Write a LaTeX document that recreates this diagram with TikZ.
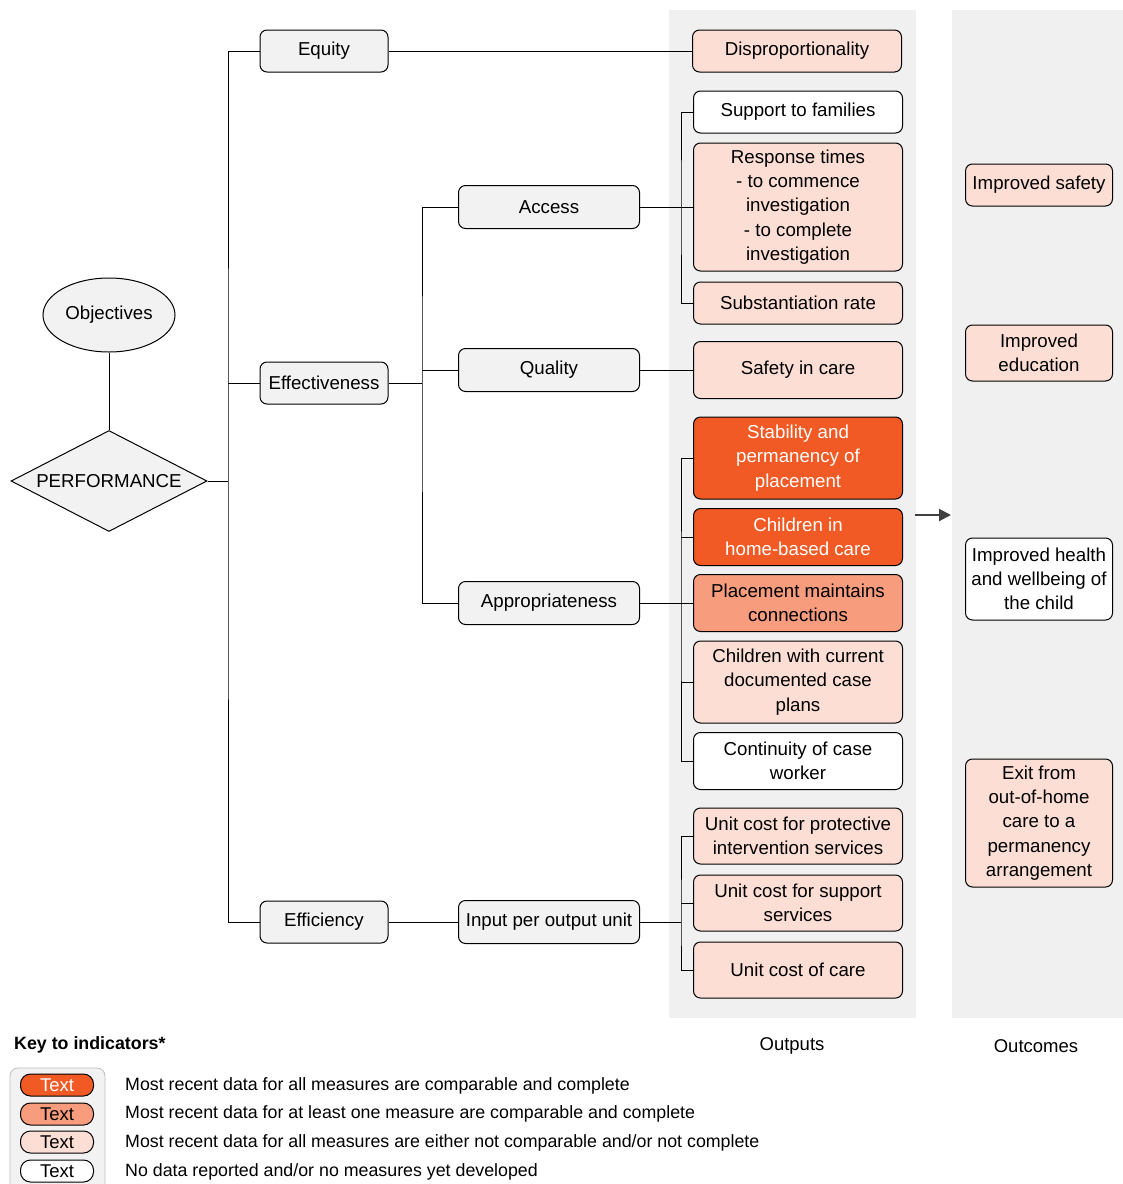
\documentclass[tikz,border=0pt]{standalone}
\usepackage{fontspec}
\setmainfont{Liberation Sans}
\usetikzlibrary{shapes.geometric,arrows.meta}
\definecolor{dk}{RGB}{241,90,36}
\definecolor{md}{RGB}{247,156,124}
\definecolor{lt}{RGB}{252,222,212}
\definecolor{gb}{RGB}{242,242,242}
\definecolor{bgc}{RGB}{240,240,240}
\definecolor{arr}{RGB}{64,64,64}
\tikzset{
  base/.style={draw=black, line width=1pt, rounded corners=7pt, align=center, inner sep=0pt,
    font=\fontsize{18.7}{24.3}\selectfont},
  cat/.style={base, fill=gb, minimum width=128pt, minimum height=42pt},
  sub/.style={base, fill=gb, minimum width=181pt, minimum height=43pt},
  outb/.style={base, minimum width=209pt},
  oc/.style={base, minimum width=147pt},
  fdk/.style={fill=dk, text=white},
  fmd/.style={fill=md},
  flt/.style={fill=lt},
  fwh/.style={fill=white},
  conn/.style={draw=black, line width=1pt},
  pill/.style={draw=black, line width=1pt, rounded corners=10pt, minimum width=73pt, minimum height=22pt,
    inner sep=0pt, font=\fontsize{18.5}{20}\selectfont},
  keytxt/.style={anchor=west, inner sep=0pt, font=\fontsize{17.8}{20}\selectfont},
}
\begin{document}
\begin{tikzpicture}[x=1pt,y=-1pt]
\useasboundingbox (0,0) rectangle (1123,1184);
% backgrounds
\fill[bgc] (669,10) rectangle (916,1018);
\fill[bgc] (952,10) rectangle (1123,1018);

% left side
\node[ellipse, draw=black, line width=1pt, fill=gb, minimum width=132pt, minimum height=74pt, inner sep=0pt,
  font=\fontsize{18.7}{24}\selectfont] (obj) at (109,315) {Objectives};
\node[diamond, draw=black, line width=1pt, fill=gb, minimum width=196pt, minimum height=101pt, aspect=1.94,
  inner sep=0pt, font=\fontsize{18.7}{24}\selectfont] (perf) at (109,481) {PERFORMANCE};

% categories
\node[cat] (equity) at (324,51) {Equity};
\node[cat] (effect) at (324,383) {Effectiveness};
\node[cat] (effic) at (324,922) {Efficiency};

% subcategories
\node[sub] (access) at (549,207) {Access};
\node[sub] (quality) at (549,370) {Quality};
\node[sub] (approp) at (549,603) {Appropriateness};
\node[sub] (input) at (549,922) {Input per output unit};

% outputs
\node[outb, flt, minimum height=42pt] (disp) at (797,51) {Disproportionality};
\node[outb, fwh, minimum height=42pt] (support) at (798,112) {Support to families};
\node[outb, flt, minimum height=128pt] (resp) at (798,207) {Response times\\- to commence\\investigation\\- to complete\\investigation};
\node[outb, flt, minimum height=42pt] (subst) at (798,303) {Substantiation rate};
\node[outb, flt, minimum height=57pt] (safety) at (798,370) {Safety in care};
\node[outb, fdk, minimum height=82pt] (stab) at (798,458) {Stability and\\permanency of\\placement};
\node[outb, fdk, minimum height=57pt] (home) at (798,537) {Children in\\home-based care};
\node[outb, fmd, minimum height=57pt] (place) at (798,603) {Placement maintains\\connections};
\node[outb, flt, minimum height=82pt] (plans) at (798,682) {Children with current\\documented case\\plans};
\node[outb, fwh, minimum height=57pt] (contin) at (798,761) {Continuity of case\\worker};
\node[outb, flt, minimum height=56pt] (ucprot) at (798,836) {Unit cost for protective\\intervention services};
\node[outb, flt, minimum height=56pt] (ucsupp) at (798,903) {Unit cost for support\\services};
\node[outb, flt, minimum height=56pt] (uccare) at (798,970) {Unit cost of care};

% outcomes
\node[oc, flt, minimum height=42pt] (isafe) at (1039,185) {Improved safety};
\node[oc, flt, minimum height=56pt] (iedu) at (1039,353) {Improved\\education};
\node[oc, fwh, minimum height=82pt] (ihealth) at (1039,579) {Improved health\\and wellbeing of\\the child};
\node[oc, flt, minimum height=128pt] (exit) at (1039,823) {Exit from\\out-of-home\\care to a\\permanency\\arrangement};

% arrow
\coordinate (arS) at (915,515);
\coordinate (arE) at (951,515);
\draw[draw=arr, line width=2pt, -{Triangle[length=12pt,width=12pt]}] (arS) -- (arE);

% connectors
\coordinate (trunk) at (228,481);
\draw[conn] (obj.south) -- (perf.north);
\draw[conn] (perf.east) -- (trunk);
\draw[conn] (equity.west) -| (trunk) |- (effic.west);
\draw[conn] (effect.west) -- (effect.west -| trunk);
\draw[conn] (equity.east) -- (disp.west);
\draw[conn] (effic.east) -- (input.west);
\coordinate (b2) at (422,383);
\draw[conn] (effect.east) -- (b2);
\draw[conn] (access.west) -| (b2) |- (approp.west);
\draw[conn] (quality.west) -- (quality.west -| b2);
% access bracket
\coordinate (b3) at (681,207);
\draw[conn] (access.east) -- (resp.west);
\draw[conn] (support.west) -| (b3) |- (subst.west);
\draw[conn] (quality.east) -- (safety.west);
% appropriateness bracket
\coordinate (b4) at (681,603);
\draw[conn] (approp.east) -- (place.west);
\draw[conn] (stab.west) -| (b4) |- (contin.west);
\draw[conn] (home.west) -- (home.west -| b4);
\draw[conn] (plans.west) -- (plans.west -| b4);
% input bracket
\coordinate (b5) at (681,922);
\draw[conn] (input.east) -- (b5);
\draw[conn] (ucprot.west) -| (b5) |- (uccare.west);
\draw[conn] (ucsupp.west) -- (ucsupp.west -| b5);

% column labels
\node[font=\fontsize{18.5}{20}\selectfont, inner sep=0pt] (lout) at (792,1046) {Outputs};
\node[font=\fontsize{18.5}{20}\selectfont, inner sep=0pt] (loc) at (1036,1046) {Outcomes};

% key
\node[anchor=west, inner sep=0pt, font=\bfseries\fontsize{17.8}{20}\selectfont] (keyt) at (14,1045) {Key to indicators*};
\fill[gb, draw={rgb,255:red,190;green,190;blue,190}, rounded corners=8pt, line width=0.8pt] (10,1068) rectangle (105,1195);
\node[pill, fdk] (k1) at (57,1085) {Text};
\node[pill, fmd] (k2) at (57,1114) {Text};
\node[pill, flt] (k3) at (57,1142) {Text};
\node[pill, fwh] (k4) at (57,1171) {Text};
\node[keytxt] (t1) at (125,1086) {Most recent data for all measures are comparable and complete};
\node[keytxt] (t2) at (125,1114) {Most recent data for at least one measure are comparable and complete};
\node[keytxt] (t3) at (125,1143) {Most recent data for all measures are either not comparable and/or not complete};
\node[keytxt] (t4) at (125,1172) {No data reported and/or no measures yet developed};
\end{tikzpicture}
\end{document}
